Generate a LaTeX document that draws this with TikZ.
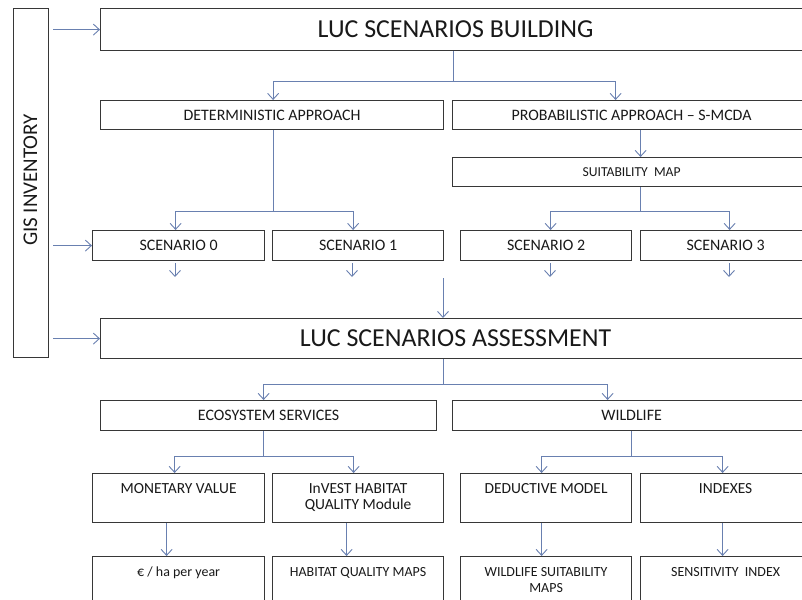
\documentclass[tikz,border=0pt]{standalone}
\usepackage{fontspec}
\setmainfont{Carlito}
\usetikzlibrary{arrows.meta}
\definecolor{arrc}{RGB}{105,128,176}
\definecolor{boxc}{RGB}{55,55,55}
\definecolor{txtc}{RGB}{25,25,25}
\begin{document}
\begin{tikzpicture}[x=1bp,y=-1bp,
  box/.style={draw=boxc, line width=1.2bp, text=txtc, inner sep=0pt, anchor=north west, align=center, font=\fontsize{16}{18}\selectfont},
  bigbox/.style={box, font=\fontsize{26}{30}\selectfont},
  midbox/.style={box, font=\fontsize{15.5}{17}\selectfont},
  lowbox/.style={box, font=\fontsize{14}{17}\selectfont},
  arr/.style={draw=arrc, line width=0.9bp, -{Straight Barb[length=6bp,width=11bp]}},
  ln/.style={draw=arrc, line width=0.9bp}]
\useasboundingbox (0,0) rectangle (802,600);
\clip (0,0) rectangle (802,600);
\fill[white] (0,0) rectangle (802,600);

% GIS inventory
\node[box, minimum width=35bp, minimum height=349bp] (gis) at (13,8) {};
\node[rotate=90, text=txtc, font=\fontsize{21}{24}\selectfont] (gist) at (30.5,180) {GIS INVENTORY};

% boxes
\node[bigbox, minimum width=710bp, minimum height=42bp] (build) at (100,8) {LUC SCENARIOS BUILDING};
\node[box, minimum width=343bp, minimum height=29bp] (det) at (100,100) {DETERMINISTIC APPROACH};
\node[box, minimum width=358bp, minimum height=29bp] (prob) at (452,100) {PROBABILISTIC APPROACH -- S-MCDA};
\node[box, minimum width=358bp, minimum height=29bp, font=\fontsize{13.7}{16}\selectfont] (suit) at (452,157) {SUITABILITY\ \ MAP};
\node[box, minimum width=172bp, minimum height=30bp] (s0) at (92,230) {SCENARIO 0};
\node[box, minimum width=171bp, minimum height=30bp] (s1) at (272,230) {SCENARIO 1};
\node[box, minimum width=171bp, minimum height=30bp] (s2) at (460,230) {SCENARIO 2};
\node[box, minimum width=170bp, minimum height=30bp] (s3) at (640,230) {SCENARIO 3};
\node[bigbox, minimum width=710bp, minimum height=40bp] (assess) at (100,318) {LUC SCENARIOS ASSESSMENT};
\node[box, minimum width=336bp, minimum height=30bp] (eco) at (100,400) {ECOSYSTEM SERVICES};
\node[box, minimum width=358bp, minimum height=30bp] (wild) at (452,400) {WILDLIFE};
\node[midbox, minimum width=172bp, minimum height=49bp] (mon) at (92,473) {\strut MONETARY VALUE\\\strut};
\node[midbox, minimum width=171bp, minimum height=49bp] (inv) at (272,473) {\strut InVEST HABITAT\\\strut QUALITY Module};
\node[midbox, minimum width=171bp, minimum height=49bp] (ded) at (460,473) {\strut DEDUCTIVE MODEL\\\strut};
\node[midbox, minimum width=170bp, minimum height=49bp] (ind) at (640,473) {\strut INDEXES\\\strut};
\node[lowbox, minimum width=172bp, minimum height=49bp] (eur) at (92,556) {\strut € / ha per year\\\strut};
\node[lowbox, minimum width=171bp, minimum height=49bp] (hab) at (272,556) {\strut HABITAT QUALITY MAPS\\\strut};
\node[lowbox, minimum width=171bp, minimum height=49bp] (wsm) at (460,556) {\strut WILDLIFE SUITABILITY\\\strut MAPS};
\node[lowbox, minimum width=170bp, minimum height=49bp] (sen) at (640,556) {\strut SENSITIVITY\ \ INDEX\\\strut};

% GIS arrows
\draw[arr] ([xshift=4bp]gis.east |- build.west) -- (build.west);
\draw[arr] ([xshift=4bp]gis.east |- s0.west) -- (s0.west);
\draw[arr] ([xshift=4bp]gis.east |- assess.west) -- (assess.west);

% building branches
\coordinate (bj) at (453,81);
\draw[ln] (build.south -| bj) -- (bj);
\draw[arr] (bj) -| ([xshift=1bp]det.north);
\draw[arr] (bj) -| ([xshift=-16bp]prob.north);

% deterministic branches
\coordinate (dj) at (273,211);
\draw[ln] (det.south -| dj) -- (dj);
\draw[arr] (dj) -| ([xshift=-3bp]s0.north);
\draw[arr] (dj) -| ([xshift=-5bp]s1.north);

% probabilistic
\draw[arr] ([xshift=9bp]prob.south) -- ([xshift=9bp]suit.north);
\coordinate (pj) at (640,211);
\draw[ln] (suit.south -| pj) -- (pj);
\draw[arr] (pj) -| ([xshift=4.5bp]s2.north);
\draw[arr] (pj) -| ([xshift=4bp]s3.north);

% scenario outputs
\coordinate (o0) at (175,277);
\coordinate (o1) at (352,277);
\coordinate (o2) at (550,277);
\coordinate (o3) at (729,277);
\draw[arr] (s0.south -| o0) ++(0,2) -- (o0);
\draw[arr] (s1.south -| o1) ++(0,2) -- (o1);
\draw[arr] (s2.south -| o2) ++(0,2) -- (o2);
\draw[arr] (s3.south -| o3) ++(0,2) -- (o3);

% central arrow
\coordinate (ca) at (443,278);
\draw[arr] (ca) -- (ca |- assess.north);

% assessment branches
\coordinate (aj) at (443,384);
\draw[ln] (assess.south -| aj) -- (aj);
\draw[arr] (aj) -| ([xshift=-5bp]eco.north);
\draw[arr] (aj) -| ([xshift=-24bp]wild.north);

% ecosystem branches
\coordinate (ej) at (263,456);
\draw[ln] (eco.south -| ej) -- (ej);
\draw[arr] (ej) -| ([xshift=-4bp]mon.north);
\draw[arr] (ej) -| ([xshift=-4.5bp]inv.north);

% wildlife branches
\coordinate (wj) at (631,456);
\draw[ln] (wild.south -| wj) -- (wj);
\draw[arr] (wj) -| ([xshift=-4.5bp]ded.north);
\draw[arr] (wj) -| ([xshift=-3bp]ind.north);

% outputs
\draw[arr] ([xshift=-12bp]mon.south) -- ([xshift=-12bp]eur.north);
\draw[arr] ([xshift=-11.5bp]inv.south) -- ([xshift=-11.5bp]hab.north);
\draw[arr] ([xshift=-4.5bp]ded.south) -- ([xshift=-4.5bp]wsm.north);
\draw[arr] ([xshift=-3bp]ind.south) -- ([xshift=-3bp]sen.north);
\end{tikzpicture}
\end{document}
